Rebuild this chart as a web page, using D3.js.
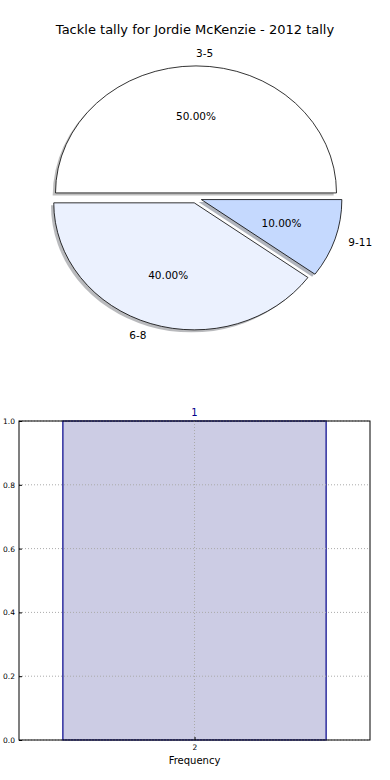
<!DOCTYPE html>
<html>
<head>
<meta charset="utf-8">
<script src="https://cdn.jsdelivr.net/npm/d3@7"></script>
<style>
  body { margin: 0; background: #fff; }
  text { font-family: "DejaVu Sans", sans-serif; }
</style>
</head>
<body>
<svg id="chart" width="390" height="780"></svg>
<script>
// pie data
const sliceLabels = ['3-5', '6-8', '9-11'];
const sliceValues = [5, 4, 1];
const sliceColors = ['#ffffff', '#ebf1fe', '#c5d9fe'];
const explode = [0.04, 0.04, 0.04];

// histogram data
const binCenters = [2];
const binCounts = [1];
const yTicks = [0.0, 0.2, 0.4, 0.6, 0.8, 1.0];

const svg = d3.select('#chart');

svg.append('text')
  .attr('x', 195).attr('y', 34)
  .attr('text-anchor', 'middle')
  .style('font-size', '13px')
  .text('Tackle tally for Jordie McKenzie - 2012 tally');

// ---- pie (matplotlib style: starts at 3 o'clock, counterclockwise, stretched axes)
const cx = 196, cy = 198, rx = 140.5, ry = 127;
const total = d3.sum(sliceValues);

const pie = d3.pie().sort(null)
  .startAngle(Math.PI / 2)
  .endAngle(Math.PI / 2 - 2 * Math.PI);
const arcs = pie(sliceValues);
const arc = d3.arc().innerRadius(0).outerRadius(1);

const pieG = svg.append('g');

arcs.forEach((a, i) => {
  const m = (a.startAngle + a.endAngle) / 2;
  const ox = cx + Math.sin(m) * explode[i] * rx;
  const oy = cy - Math.cos(m) * explode[i] * ry;

  // shadow
  pieG.append('path')
    .attr('d', arc(a))
    .attr('transform', `translate(${ox - 2.8},${oy + 2.5}) scale(${rx},${ry})`)
    .attr('fill', d3.rgb(sliceColors[i]).darker(2))
    .attr('fill-opacity', 0.5)
    .attr('stroke', 'none');
});

arcs.forEach((a, i) => {
  const m = (a.startAngle + a.endAngle) / 2;
  const ox = cx + Math.sin(m) * explode[i] * rx;
  const oy = cy - Math.cos(m) * explode[i] * ry;

  pieG.append('path')
    .attr('d', arc(a))
    .attr('transform', `translate(${ox},${oy}) scale(${rx},${ry})`)
    .attr('fill', sliceColors[i])
    .attr('stroke', '#000')
    .attr('stroke-width', 0.8)
    .attr('vector-effect', 'non-scaling-stroke');

  // category label at 1.1 radius
  const lx = ox + Math.sin(m) * 1.1 * rx;
  const ly = oy - Math.cos(m) * 1.1 * ry;
  pieG.append('text')
    .attr('x', lx).attr('y', ly)
    .attr('dy', '0.35em')
    .attr('text-anchor', Math.sin(m) >= -1e-9 ? 'start' : 'end')
    .style('font-size', '10.5px')
    .text(sliceLabels[i]);

  // percent label at 0.6 radius
  pieG.append('text')
    .attr('x', ox + Math.sin(m) * 0.6 * rx)
    .attr('y', oy - Math.cos(m) * 0.6 * ry)
    .attr('dy', '0.35em')
    .attr('text-anchor', 'middle')
    .style('font-size', '10.5px')
    .text(d3.format('.2f')(sliceValues[i] / total * 100) + '%');
});

// ---- histogram
const m = { left: 19, right: 370, top: 421, bottom: 740 };
const x = d3.scaleLinear().domain([1.5, 2.5]).range([m.left, m.right]);
const y = d3.scaleLinear().domain([0, 1]).range([m.bottom, m.top]);
const barWidth = 0.75;

const hist = svg.append('g');

hist.selectAll('rect.bar')
  .data(binCenters)
  .join('rect')
  .attr('class', 'bar')
  .attr('x', d => x(d - barWidth / 2))
  .attr('width', d => x(d + barWidth / 2) - x(d - barWidth / 2))
  .attr('y', (d, i) => y(binCounts[i]))
  .attr('height', (d, i) => y(0) - y(binCounts[i]))
  .attr('fill', '#ccccE4')
  .attr('stroke', '#00008b')
  .attr('stroke-width', 1.2);

// grid, drawn over the bar
hist.append('g').selectAll('line')
  .data(yTicks)
  .join('line')
  .attr('x1', m.left).attr('x2', m.right)
  .attr('y1', d => y(d)).attr('y2', d => y(d))
  .attr('stroke', '#aaa').attr('stroke-width', 1)
  .attr('stroke-dasharray', '1,2');

hist.append('g').selectAll('line')
  .data(binCenters)
  .join('line')
  .attr('x1', d => x(d)).attr('x2', d => x(d))
  .attr('y1', m.top).attr('y2', m.bottom)
  .attr('stroke', '#aaa').attr('stroke-width', 1)
  .attr('stroke-dasharray', '1,2');

// frame
hist.append('rect')
  .attr('x', m.left).attr('y', m.top)
  .attr('width', m.right - m.left).attr('height', m.bottom - m.top)
  .attr('fill', 'none').attr('stroke', '#000').attr('stroke-width', 1);

// axes
const yAxis = d3.axisLeft(y).tickValues(yTicks).tickFormat(d3.format('.1f')).tickSize(-3).tickPadding(4);
const yg = hist.append('g').attr('transform', `translate(${m.left},0)`).call(yAxis);
yg.select('.domain').remove();
yg.selectAll('text').style('font-size', '7.5px').style('font-family', '"DejaVu Sans", sans-serif');

const xAxis = d3.axisBottom(x).tickValues(binCenters).tickFormat(d3.format('d')).tickSize(-3).tickPadding(5);
const xg = hist.append('g').attr('transform', `translate(0,${m.bottom})`).call(xAxis);
xg.select('.domain').remove();
xg.selectAll('text').style('font-size', '7.5px').style('font-family', '"DejaVu Sans", sans-serif');

// count labels
hist.selectAll('text.count')
  .data(binCenters)
  .join('text')
  .attr('class', 'count')
  .attr('x', d => x(d))
  .attr('y', (d, i) => y(binCounts[i]) - 5)
  .attr('text-anchor', 'middle')
  .attr('fill', '#00008b')
  .style('font-size', '10px')
  .text((d, i) => binCounts[i]);

svg.append('text')
  .attr('x', x(2)).attr('y', 764)
  .attr('text-anchor', 'middle')
  .style('font-size', '10px')
  .text('Frequency');
</script>
</body>
</html>
